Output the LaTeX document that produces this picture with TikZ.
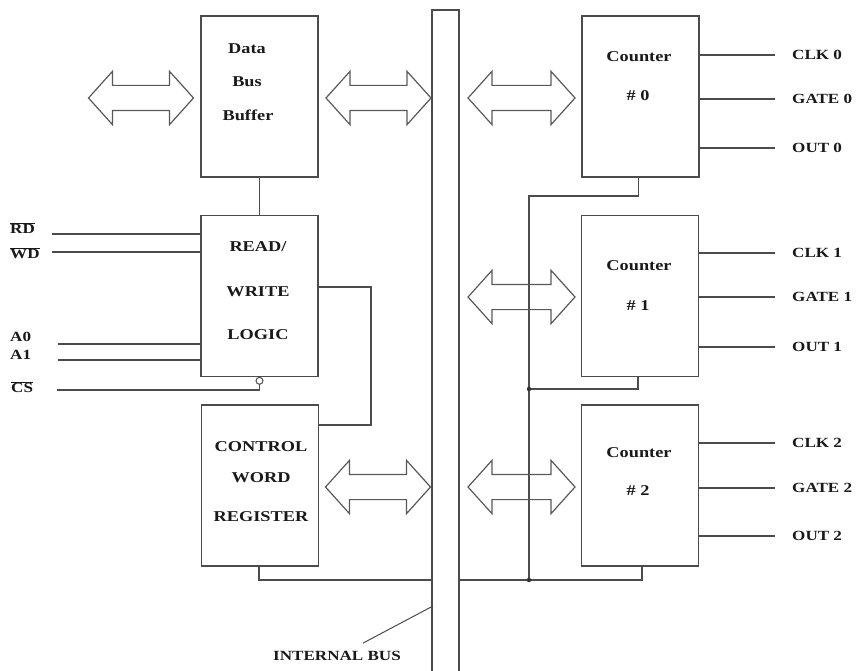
\documentclass[tikz,border=0pt]{standalone}
\usepackage{fontspec}
\setmainfont{Liberation Serif}[FakeStretch=1.22]
\usetikzlibrary{shapes.arrows}

\begin{document}
\begin{tikzpicture}[x=1pt, y=-1pt,
	box/.style={draw=black!70, line width=1.6pt, minimum width=117pt, minimum height=161pt, inner sep=0pt},
	wire/.style={draw=black!70, line width=1.4pt},
	lbl/.style={font=\fontsize{14}{16}\selectfont\bfseries, inner sep=0pt, text=black!90},
	intext/.style={lbl, font=\fontsize{15}{17}\selectfont\bfseries},
	pin/.style={lbl, anchor=west, inner xsep=17pt},
	busarrow/.style={double arrow, draw=black!65, line width=1.2pt, minimum height=105pt, minimum width=52pt,
		double arrow head extend=14pt, double arrow tip angle=96, inner xsep=0pt, inner ysep=12pt}]
	\useasboundingbox (0,0) rectangle (856,671);

	% ================= 内部总线 =================
	\node[draw=black!70, line width=1.4pt, minimum width=27pt, minimum height=680pt] (bus) at (445.5,350) {};
	\node[lbl] (ibus) at (337,656) {INTERNAL BUS};
	\coordinate (ibustip) at (433,606);
	\draw[wire, line width=1pt] ([xshift=26pt, yshift=8pt]ibus.north) -- (ibustip);

	% ================= 左侧：缓冲器、读写逻辑、控制字寄存器 =================
	% 1. 方框
	\node[box] (dbb) at (259.5,96.5) {};
	\node[box] (rwl) at (259.5,296) {};
	\node[box] (cwr) at (260,485.5) {};

	% 2. 框内文字
	\node[intext] (dbbt1) at (247,49) {Data};
	\node[intext] (dbbt2) at (247,82) {Bus};
	\node[intext] (dbbt3) at (248,115) {Buffer};
	\node[intext] (rwlt1) at (258,247) {READ/};
	\node[intext] (rwlt2) at (258,292) {WRITE};
	\node[intext] (rwlt3) at (258,335) {LOGIC};
	\node[intext] (cwrt1) at (261,447) {CONTROL};
	\node[intext] (cwrt2) at (261,478) {WORD};
	\node[intext] (cwrt3) at (261,517) {REGISTER};

	% 3. 输入信号线
	\node[lbl, anchor=west] (rd) at (10,228) {$\overline{\mbox{RD}}$};
	\node[lbl, anchor=west] (wd) at (10,253) {$\overline{\mbox{WD}}$};
	\node[lbl, anchor=west] (a0) at (10,337) {A0};
	\node[lbl, anchor=west] (a1) at (10,355) {A1};
	\node[lbl, anchor=west] (cs) at (11,387) {$\overline{\mbox{CS}}$};
	\draw[wire] (52,234) -- (rwl.west |- 0,234);
	\draw[wire] (52,252) -- (rwl.west |- 0,252);
	\draw[wire] (58,344) -- (rwl.west |- 0,344);
	\draw[wire] (58,360) -- (rwl.west |- 0,360);
	\draw[wire, line width=1pt] (rwl.south) ++(0,3.5) circle (3.5pt);
	\draw[wire] (57,390) -| ([yshift=-7pt]rwl.south);

	% 4. 内部连线
	\draw[wire] (dbb.south) -- (rwl.north);
	\draw[wire] (rwl.east |- 0,287) -- (371,287) |- (cwr.east |- 0,425);
	\draw[wire] ([xshift=-1pt]cwr.south) |- (bus.west |- 0,580);

	% 5. 双向箭头
	\node[busarrow] (aext) at (141,98) {};
	\node[busarrow] (adbb) at (378.5,98) {};
	\node[busarrow] (acwr) at (378,487) {};

	% ================= 右侧：三个计数器 =================
	\node[box] (cnt0) at (640.5,96.5) {};
	\node[box] (cnt1) at (640,296) {};
	\node[box] (cnt2) at (640,485.5) {};

	\foreach \n/\ya/\yb in {0/57/96, 1/266/306, 2/453/491} {
		\node[intext] (cnt\n t1) at (639,\ya) {Counter};
		\node[intext] (cnt\n t2) at (638,\yb) {\# \n};
	}

	% 引脚 CLK / GATE / OUT
	\foreach \n/\yc/\yg/\yo in {0/55/99/148, 1/253/297/347, 2/443/488/536} {
		\node[pin] (clk\n) at (775,\yc) {CLK \n};
		\node[pin] (gate\n) at (775,\yg) {GATE \n};
		\node[pin] (out\n) at (775,\yo) {OUT \n};
		\draw[wire] (cnt\n.east |- clk\n.west) -- (clk\n.west);
		\draw[wire] (cnt\n.east |- gate\n.west) -- (gate\n.west);
		\draw[wire] (cnt\n.east |- out\n.west) -- (out\n.west);
	}

	% 计数器与总线之间的连线
	\coordinate (j1) at (529,389);
	\coordinate (j2) at (529,580);
	\draw[wire] ([xshift=-2pt]cnt0.south) |- (529,196) -- (j2);
	\draw[wire] ([xshift=-2pt]cnt1.south) |- (j1);
	\draw[wire] ([xshift=2pt]cnt2.south) |- (bus.east |- j2);
	\fill[black!80] (j1) circle (2.2pt);
	\fill[black!80] (j2) circle (2.2pt);

	\node[busarrow, minimum height=107pt] (ac0) at (521.5,98) {};
	\node[busarrow, minimum height=107pt] (ac1) at (521.5,297) {};
	\node[busarrow, minimum height=107pt] (ac2) at (521.5,487) {};
\end{tikzpicture}
\end{document}
